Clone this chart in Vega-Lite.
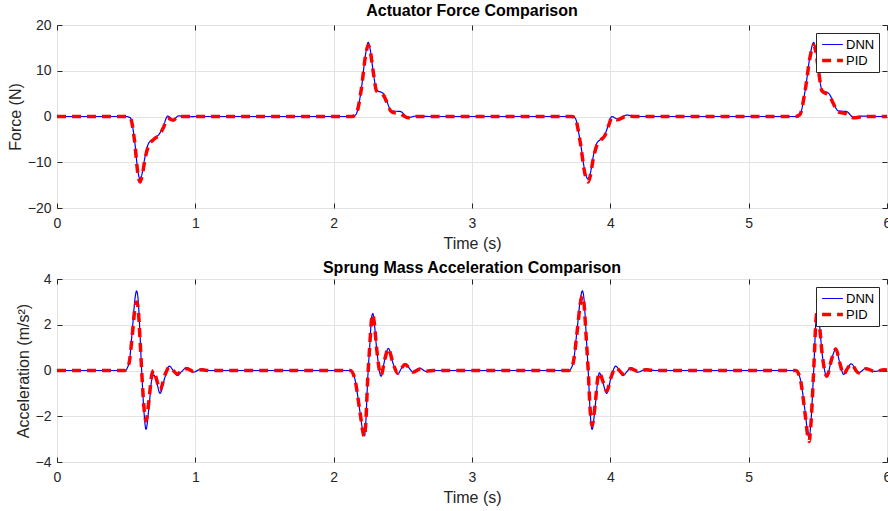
{
  "$schema": "https://vega.github.io/schema/vega-lite/v6.json",
  "padding": {"left": 6, "top": 2, "right": 0, "bottom": 0},
  "spacing": 7,
  "config": {
    "font": "Liberation Sans",
    "view": {"stroke": "#262626", "strokeWidth": 1},
    "title": {"fontSize": 16, "fontWeight": "bold", "color": "#000000", "offset": -1},
    "axis": {
      "labelFontSize": 14, "titleFontSize": 16, "titleFontWeight": "normal",
      "labelColor": "#262626", "titleColor": "#262626",
      "gridColor": "#e3e3e3", "domain": false, "tickColor": "#262626", "tickSize": -5
    },
    "axisX": {"labelPadding": 13, "titlePadding": 5},
    "axisY": {"labelPadding": 11, "titlePadding": 4},
    "legend": {
      "orient": "top-right", "offset": 8, "strokeColor": "#262626", "fillColor": "#ffffff",
      "padding": 4, "labelFontSize": 13, "labelColor": "#000000", "symbolType": "M-1.6,0H1.6",
      "symbolSize": 169, "symbolOffset": 4, "labelOffset": 5, "rowPadding": 0, "title": null
    }
  },
  "datasets": {
    "force": [
      {"t":0,"s":"DNN","v":0},{"t":0.5,"s":"DNN","v":0},{"t":0.53,"s":"DNN","v":-0.3},{"t":0.56,"s":"DNN","v":-5},{"t":0.585,"s":"DNN","v":-12},{"t":0.6,"s":"DNN","v":-13.7},{"t":0.615,"s":"DNN","v":-12.5},{"t":0.635,"s":"DNN","v":-9},{"t":0.66,"s":"DNN","v":-6},{"t":0.7,"s":"DNN","v":-4.8},{"t":0.74,"s":"DNN","v":-3.8},{"t":0.77,"s":"DNN","v":-2},{"t":0.80,"s":"DNN","v":0.1},{"t":0.84,"s":"DNN","v":-0.7},{"t":0.88,"s":"DNN","v":0.15},{"t":0.93,"s":"DNN","v":-0.1},{"t":1.0,"s":"DNN","v":0},
      {"t":2.13,"s":"DNN","v":0},{"t":2.16,"s":"DNN","v":0.4},{"t":2.2,"s":"DNN","v":6},{"t":2.23,"s":"DNN","v":13.5},{"t":2.25,"s":"DNN","v":16.2},{"t":2.265,"s":"DNN","v":14.5},{"t":2.285,"s":"DNN","v":10},{"t":2.31,"s":"DNN","v":5.8},{"t":2.36,"s":"DNN","v":5.0},{"t":2.42,"s":"DNN","v":1.2},{"t":2.48,"s":"DNN","v":1.1},{"t":2.54,"s":"DNN","v":-0.2},{"t":2.6,"s":"DNN","v":0.1},{"t":2.7,"s":"DNN","v":0},
      {"t":3.72,"s":"DNN","v":0},{"t":3.745,"s":"DNN","v":-0.3},{"t":3.78,"s":"DNN","v":-5},{"t":3.82,"s":"DNN","v":-12.5},{"t":3.84,"s":"DNN","v":-13.7},{"t":3.855,"s":"DNN","v":-12.5},{"t":3.875,"s":"DNN","v":-9},{"t":3.9,"s":"DNN","v":-6},{"t":3.93,"s":"DNN","v":-5},{"t":3.96,"s":"DNN","v":-4},{"t":3.99,"s":"DNN","v":-1.5},{"t":4.01,"s":"DNN","v":0},{"t":4.05,"s":"DNN","v":-0.5},{"t":4.12,"s":"DNN","v":0.3},{"t":4.18,"s":"DNN","v":0},{"t":4.3,"s":"DNN","v":0},
      {"t":5.34,"s":"DNN","v":0},{"t":5.37,"s":"DNN","v":0.4},{"t":5.41,"s":"DNN","v":6},{"t":5.445,"s":"DNN","v":13.5},{"t":5.47,"s":"DNN","v":16.2},{"t":5.485,"s":"DNN","v":14.5},{"t":5.505,"s":"DNN","v":10},{"t":5.53,"s":"DNN","v":5.8},{"t":5.58,"s":"DNN","v":5.0},{"t":5.65,"s":"DNN","v":1.2},{"t":5.705,"s":"DNN","v":1.1},{"t":5.76,"s":"DNN","v":-0.2},{"t":5.83,"s":"DNN","v":0.1},{"t":5.9,"s":"DNN","v":0},{"t":6.0,"s":"DNN","v":0},
      {"t":0,"s":"PID","v":0},{"t":0.5,"s":"PID","v":0},{"t":0.53,"s":"PID","v":-0.3},{"t":0.56,"s":"PID","v":-5.2},{"t":0.585,"s":"PID","v":-12.5},{"t":0.6,"s":"PID","v":-14.3},{"t":0.615,"s":"PID","v":-13},{"t":0.635,"s":"PID","v":-9.5},{"t":0.66,"s":"PID","v":-6.5},{"t":0.7,"s":"PID","v":-5},{"t":0.74,"s":"PID","v":-4},{"t":0.77,"s":"PID","v":-2.4},{"t":0.80,"s":"PID","v":-0.4},{"t":0.84,"s":"PID","v":-0.8},{"t":0.88,"s":"PID","v":0},{"t":0.93,"s":"PID","v":0},{"t":1.0,"s":"PID","v":0},
      {"t":2.13,"s":"PID","v":0},{"t":2.16,"s":"PID","v":0.4},{"t":2.2,"s":"PID","v":6},{"t":2.23,"s":"PID","v":13.2},{"t":2.25,"s":"PID","v":15.6},{"t":2.265,"s":"PID","v":14.2},{"t":2.285,"s":"PID","v":10},{"t":2.31,"s":"PID","v":5.6},{"t":2.36,"s":"PID","v":4.6},{"t":2.42,"s":"PID","v":1.0},{"t":2.48,"s":"PID","v":0.6},{"t":2.54,"s":"PID","v":-0.3},{"t":2.6,"s":"PID","v":0},{"t":2.7,"s":"PID","v":0},
      {"t":3.72,"s":"PID","v":0},{"t":3.745,"s":"PID","v":-0.3},{"t":3.78,"s":"PID","v":-5.2},{"t":3.82,"s":"PID","v":-13},{"t":3.84,"s":"PID","v":-14.3},{"t":3.855,"s":"PID","v":-13},{"t":3.875,"s":"PID","v":-9.5},{"t":3.9,"s":"PID","v":-6.5},{"t":3.93,"s":"PID","v":-5.2},{"t":3.96,"s":"PID","v":-4.2},{"t":3.99,"s":"PID","v":-1.8},{"t":4.01,"s":"PID","v":-0.3},{"t":4.05,"s":"PID","v":-0.7},{"t":4.12,"s":"PID","v":0.1},{"t":4.18,"s":"PID","v":0},{"t":4.3,"s":"PID","v":0},
      {"t":5.34,"s":"PID","v":0},{"t":5.37,"s":"PID","v":0.4},{"t":5.41,"s":"PID","v":6},{"t":5.445,"s":"PID","v":13.2},{"t":5.47,"s":"PID","v":15.6},{"t":5.485,"s":"PID","v":14.2},{"t":5.505,"s":"PID","v":10},{"t":5.53,"s":"PID","v":5.6},{"t":5.58,"s":"PID","v":4.6},{"t":5.65,"s":"PID","v":1.0},{"t":5.705,"s":"PID","v":0.6},{"t":5.76,"s":"PID","v":-0.3},{"t":5.83,"s":"PID","v":0},{"t":5.9,"s":"PID","v":0},{"t":6.0,"s":"PID","v":0}
    ],
    "accel": [
      {"t":0,"s":"DNN","v":0},{"t":0.49,"s":"DNN","v":0},{"t":0.52,"s":"DNN","v":0.3},{"t":0.545,"s":"DNN","v":1.8},{"t":0.565,"s":"DNN","v":3.2},{"t":0.575,"s":"DNN","v":3.48},{"t":0.585,"s":"DNN","v":3.2},{"t":0.6,"s":"DNN","v":1.6},{"t":0.612,"s":"DNN","v":0},{"t":0.63,"s":"DNN","v":-1.9},{"t":0.643,"s":"DNN","v":-2.57},{"t":0.665,"s":"DNN","v":-1.6},{"t":0.685,"s":"DNN","v":-0.4},{"t":0.70,"s":"DNN","v":-0.2},{"t":0.72,"s":"DNN","v":-0.5},{"t":0.745,"s":"DNN","v":-1.0},{"t":0.78,"s":"DNN","v":-0.3},{"t":0.812,"s":"DNN","v":0.19},{"t":0.84,"s":"DNN","v":0},{"t":0.87,"s":"DNN","v":-0.22},{"t":0.9,"s":"DNN","v":-0.05},{"t":0.94,"s":"DNN","v":0.13},{"t":0.985,"s":"DNN","v":-0.07},{"t":1.046,"s":"DNN","v":0.07},{"t":1.1,"s":"DNN","v":0},
      {"t":2.12,"s":"DNN","v":0},{"t":2.15,"s":"DNN","v":-0.3},{"t":2.19,"s":"DNN","v":-1.8},{"t":2.212,"s":"DNN","v":-2.7},{"t":2.222,"s":"DNN","v":-2.86},{"t":2.232,"s":"DNN","v":-2.3},{"t":2.245,"s":"DNN","v":-0.5},{"t":2.26,"s":"DNN","v":1.0},{"t":2.275,"s":"DNN","v":2.35},{"t":2.283,"s":"DNN","v":2.49},{"t":2.295,"s":"DNN","v":2.0},{"t":2.31,"s":"DNN","v":1.0},{"t":2.343,"s":"DNN","v":-0.25},{"t":2.37,"s":"DNN","v":0.5},{"t":2.395,"s":"DNN","v":0.97},{"t":2.43,"s":"DNN","v":0.3},{"t":2.463,"s":"DNN","v":-0.16},{"t":2.49,"s":"DNN","v":0.1},{"t":2.516,"s":"DNN","v":0.28},{"t":2.576,"s":"DNN","v":-0.07},{"t":2.62,"s":"DNN","v":0.1},{"t":2.67,"s":"DNN","v":-0.04},{"t":2.72,"s":"DNN","v":0},
      {"t":3.7,"s":"DNN","v":0},{"t":3.73,"s":"DNN","v":0.3},{"t":3.76,"s":"DNN","v":1.8},{"t":3.785,"s":"DNN","v":3.2},{"t":3.798,"s":"DNN","v":3.48},{"t":3.81,"s":"DNN","v":3.1},{"t":3.825,"s":"DNN","v":1.6},{"t":3.84,"s":"DNN","v":0},{"t":3.855,"s":"DNN","v":-1.9},{"t":3.868,"s":"DNN","v":-2.57},{"t":3.89,"s":"DNN","v":-1.6},{"t":3.91,"s":"DNN","v":-0.4},{"t":3.921,"s":"DNN","v":-0.1},{"t":3.945,"s":"DNN","v":-0.5},{"t":3.974,"s":"DNN","v":-1.0},{"t":4.005,"s":"DNN","v":-0.3},{"t":4.039,"s":"DNN","v":0.19},{"t":4.065,"s":"DNN","v":0},{"t":4.09,"s":"DNN","v":-0.22},{"t":4.12,"s":"DNN","v":-0.05},{"t":4.148,"s":"DNN","v":0.13},{"t":4.2,"s":"DNN","v":-0.07},{"t":4.26,"s":"DNN","v":0.07},{"t":4.32,"s":"DNN","v":0},
      {"t":5.34,"s":"DNN","v":0},{"t":5.37,"s":"DNN","v":-0.3},{"t":5.41,"s":"DNN","v":-1.9},{"t":5.428,"s":"DNN","v":-2.8},{"t":5.437,"s":"DNN","v":-2.95},{"t":5.447,"s":"DNN","v":-2.5},{"t":5.47,"s":"DNN","v":0},{"t":5.488,"s":"DNN","v":2.3},{"t":5.497,"s":"DNN","v":2.6},{"t":5.51,"s":"DNN","v":2.1},{"t":5.53,"s":"DNN","v":0.8},{"t":5.565,"s":"DNN","v":-0.25},{"t":5.6,"s":"DNN","v":0.5},{"t":5.63,"s":"DNN","v":0.94},{"t":5.66,"s":"DNN","v":0.3},{"t":5.686,"s":"DNN","v":-0.17},{"t":5.715,"s":"DNN","v":0.1},{"t":5.741,"s":"DNN","v":0.29},{"t":5.794,"s":"DNN","v":-0.1},{"t":5.85,"s":"DNN","v":0.1},{"t":5.91,"s":"DNN","v":-0.04},{"t":5.98,"s":"DNN","v":0.04},{"t":6.0,"s":"DNN","v":0.02},
      {"t":0,"s":"PID","v":0},{"t":0.49,"s":"PID","v":0},{"t":0.52,"s":"PID","v":0.3},{"t":0.545,"s":"PID","v":1.6},{"t":0.565,"s":"PID","v":2.8},{"t":0.575,"s":"PID","v":3.0},{"t":0.585,"s":"PID","v":2.8},{"t":0.6,"s":"PID","v":1.4},{"t":0.612,"s":"PID","v":0},{"t":0.63,"s":"PID","v":-1.7},{"t":0.643,"s":"PID","v":-2.2},{"t":0.665,"s":"PID","v":-1.3},{"t":0.685,"s":"PID","v":-0.2},{"t":0.70,"s":"PID","v":0},{"t":0.72,"s":"PID","v":-0.4},{"t":0.745,"s":"PID","v":-0.85},{"t":0.78,"s":"PID","v":-0.2},{"t":0.812,"s":"PID","v":0.15},{"t":0.84,"s":"PID","v":0},{"t":0.87,"s":"PID","v":-0.15},{"t":0.9,"s":"PID","v":0},{"t":0.94,"s":"PID","v":0.08},{"t":0.985,"s":"PID","v":-0.04},{"t":1.046,"s":"PID","v":0.03},{"t":1.1,"s":"PID","v":0},
      {"t":2.12,"s":"PID","v":0},{"t":2.15,"s":"PID","v":-0.3},{"t":2.19,"s":"PID","v":-1.8},{"t":2.212,"s":"PID","v":-2.7},{"t":2.222,"s":"PID","v":-2.9},{"t":2.232,"s":"PID","v":-2.3},{"t":2.245,"s":"PID","v":-0.5},{"t":2.26,"s":"PID","v":1.0},{"t":2.275,"s":"PID","v":2.3},{"t":2.283,"s":"PID","v":2.45},{"t":2.295,"s":"PID","v":2.0},{"t":2.31,"s":"PID","v":1.0},{"t":2.343,"s":"PID","v":-0.2},{"t":2.37,"s":"PID","v":0.5},{"t":2.395,"s":"PID","v":0.95},{"t":2.43,"s":"PID","v":0.3},{"t":2.463,"s":"PID","v":-0.12},{"t":2.49,"s":"PID","v":0.1},{"t":2.516,"s":"PID","v":0.26},{"t":2.576,"s":"PID","v":-0.07},{"t":2.62,"s":"PID","v":0.05},{"t":2.67,"s":"PID","v":-0.03},{"t":2.72,"s":"PID","v":0},
      {"t":3.7,"s":"PID","v":0},{"t":3.73,"s":"PID","v":0.3},{"t":3.76,"s":"PID","v":1.7},{"t":3.785,"s":"PID","v":3.0},{"t":3.798,"s":"PID","v":3.25},{"t":3.81,"s":"PID","v":2.9},{"t":3.825,"s":"PID","v":1.5},{"t":3.84,"s":"PID","v":0},{"t":3.855,"s":"PID","v":-1.8},{"t":3.868,"s":"PID","v":-2.4},{"t":3.89,"s":"PID","v":-1.5},{"t":3.91,"s":"PID","v":-0.3},{"t":3.921,"s":"PID","v":-0.1},{"t":3.945,"s":"PID","v":-0.45},{"t":3.974,"s":"PID","v":-0.9},{"t":4.005,"s":"PID","v":-0.3},{"t":4.039,"s":"PID","v":0.12},{"t":4.065,"s":"PID","v":0},{"t":4.09,"s":"PID","v":-0.15},{"t":4.12,"s":"PID","v":0},{"t":4.148,"s":"PID","v":0.08},{"t":4.2,"s":"PID","v":-0.04},{"t":4.26,"s":"PID","v":0.03},{"t":4.32,"s":"PID","v":0},
      {"t":5.34,"s":"PID","v":0},{"t":5.37,"s":"PID","v":-0.3},{"t":5.41,"s":"PID","v":-2.0},{"t":5.428,"s":"PID","v":-2.9},{"t":5.437,"s":"PID","v":-3.1},{"t":5.447,"s":"PID","v":-2.6},{"t":5.47,"s":"PID","v":0},{"t":5.488,"s":"PID","v":2.3},{"t":5.497,"s":"PID","v":2.6},{"t":5.51,"s":"PID","v":2.1},{"t":5.53,"s":"PID","v":0.8},{"t":5.565,"s":"PID","v":-0.25},{"t":5.6,"s":"PID","v":0.5},{"t":5.63,"s":"PID","v":0.94},{"t":5.66,"s":"PID","v":0.3},{"t":5.686,"s":"PID","v":-0.17},{"t":5.715,"s":"PID","v":0.1},{"t":5.741,"s":"PID","v":0.27},{"t":5.794,"s":"PID","v":-0.1},{"t":5.85,"s":"PID","v":0.08},{"t":5.91,"s":"PID","v":-0.04},{"t":5.98,"s":"PID","v":0.03},{"t":6.0,"s":"PID","v":0.02}
    ]
  },
  "vconcat": [
    {
      "width": 830, "height": 183,
      "title": "Actuator Force Comparison",
      "data": {"name": "force"},
      "layer": [
        {
          "mark": {"type": "line", "interpolate": "monotone", "clip": true},
          "encoding": {
            "x": {"field": "t", "type": "quantitative", "scale": {"domain": [0, 6], "nice": false},
                  "axis": {"orient": "bottom", "title": "Time (s)", "values": [0,1,2,3,4,5,6], "labelFlush": false}},
            "y": {"field": "v", "type": "quantitative", "scale": {"domain": [-20, 20], "nice": false},
                  "axis": {"orient": "left", "title": "Force (N)", "values": [-20,-10,0,10,20]}},
            "color": {"field": "s", "type": "nominal", "scale": {"domain": ["DNN","PID"], "range": ["#0000ff","#ff0000"]}},
            "strokeDash": {"field": "s", "type": "nominal", "scale": {"domain": ["DNN","PID"], "range": [[1,0],[9,6]]}},
            "strokeWidth": {"field": "s", "type": "nominal", "scale": {"domain": ["DNN","PID"], "range": [1.2, 3.5]}}
          }
        },
        {
          "mark": {"type": "line", "opacity": 0},
          "encoding": {
            "x": {"field": "t", "type": "quantitative", "scale": {"domain": [0, 6], "nice": false},
                  "axis": {"orient": "top", "title": null, "labels": false, "grid": false, "values": [0,1,2,3,4,5,6]}},
            "y": {"field": "v", "type": "quantitative", "scale": {"domain": [-20, 20], "nice": false},
                  "axis": {"orient": "right", "title": null, "labels": false, "grid": false, "values": [-20,-10,0,10,20]}}
          }
        }
      ],
      "resolve": {"axis": {"x": "independent", "y": "independent"}}
    },
    {
      "width": 830, "height": 183,
      "title": {"text": "Sprung Mass Acceleration Comparison", "offset": -4},
      "data": {"name": "accel"},
      "layer": [
        {
          "mark": {"type": "line", "interpolate": "monotone", "clip": true},
          "encoding": {
            "x": {"field": "t", "type": "quantitative", "scale": {"domain": [0, 6], "nice": false},
                  "axis": {"orient": "bottom", "title": "Time (s)", "values": [0,1,2,3,4,5,6], "labelFlush": false}},
            "y": {"field": "v", "type": "quantitative", "scale": {"domain": [-4, 4], "nice": false},
                  "axis": {"orient": "left", "title": "Acceleration (m/s²)", "values": [-4,-2,0,2,4]}},
            "color": {"field": "s", "type": "nominal", "scale": {"domain": ["DNN","PID"], "range": ["#0000ff","#ff0000"]}},
            "strokeDash": {"field": "s", "type": "nominal", "scale": {"domain": ["DNN","PID"], "range": [[1,0],[9,6]]}},
            "strokeWidth": {"field": "s", "type": "nominal", "scale": {"domain": ["DNN","PID"], "range": [1.2, 3.5]}}
          }
        },
        {
          "mark": {"type": "line", "opacity": 0},
          "encoding": {
            "x": {"field": "t", "type": "quantitative", "scale": {"domain": [0, 6], "nice": false},
                  "axis": {"orient": "top", "title": null, "labels": false, "grid": false, "values": [0,1,2,3,4,5,6]}},
            "y": {"field": "v", "type": "quantitative", "scale": {"domain": [-4, 4], "nice": false},
                  "axis": {"orient": "right", "title": null, "labels": false, "grid": false, "values": [-4,-2,0,2,4]}}
          }
        }
      ],
      "resolve": {"axis": {"x": "independent", "y": "independent"}}
    }
  ],
  "resolve": {"scale": {"color": "independent", "strokeDash": "independent", "strokeWidth": "independent"}}
}
